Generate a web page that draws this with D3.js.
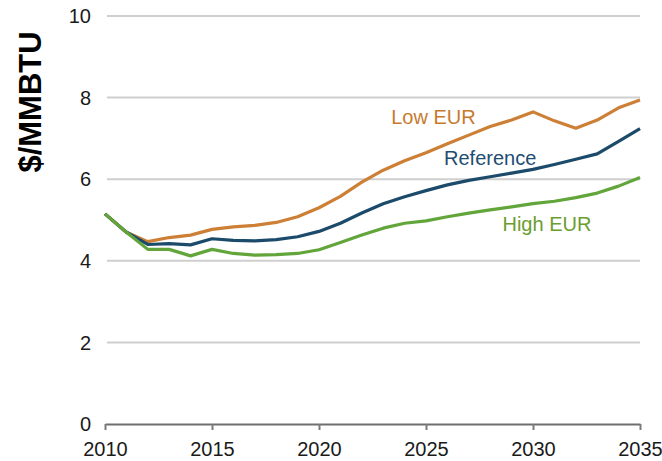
<!DOCTYPE html>
<html>
<head>
<meta charset="utf-8">
<script src="https://cdn.jsdelivr.net/npm/d3@7"></script>
<style>
  body { margin: 0; background: #fff; }
  svg { display: block; font-family: "Liberation Sans", Arial, sans-serif; }
</style>
</head>
<body>
<svg id="chart"></svg>
<script>
const years = d3.range(2010, 2036);
const lowEUR = [5.15, 4.70, 4.47, 4.57, 4.63, 4.77, 4.83, 4.87, 4.94, 5.08, 5.30, 5.58, 5.93, 6.22, 6.45, 6.65, 6.87, 7.08, 7.29, 7.45, 7.65, 7.43, 7.25, 7.45, 7.75, 7.94];
const reference = [5.15, 4.70, 4.40, 4.42, 4.39, 4.54, 4.50, 4.49, 4.52, 4.59, 4.72, 4.92, 5.17, 5.40, 5.57, 5.72, 5.86, 5.97, 6.06, 6.15, 6.24, 6.36, 6.49, 6.62, 6.93, 7.24];
const highEUR = [5.15, 4.70, 4.28, 4.28, 4.12, 4.28, 4.18, 4.14, 4.15, 4.18, 4.27, 4.45, 4.63, 4.80, 4.92, 4.98, 5.08, 5.17, 5.25, 5.32, 5.40, 5.46, 5.55, 5.66, 5.83, 6.04];
const yTicks = [0, 2, 4, 6, 8, 10];
const xTicks = [2010, 2015, 2020, 2025, 2030, 2035];

const series = [
  {name: "Low EUR", values: lowEUR, color: "#cd7f35", text: "#c77a2e", at: [2025.35, 7.52]},
  {name: "Reference", values: reference, color: "#1c4a6b", text: "#1f4d72", at: [2028.0, 6.52]},
  {name: "High EUR", values: highEUR, color: "#62a53a", text: "#6a9e2e", at: [2030.65, 4.90]}
];

const W = 662, H = 461;
const svg = d3.select("#chart").attr("width", W).attr("height", H);

const x = d3.scaleLinear().domain([2010, 2035]).range([105, 640]);
const y = d3.scaleLinear().domain([0, 10]).range([424, 16]);

// gridlines
svg.append("g")
  .selectAll("line")
  .data(yTicks.filter(d => d > 0))
  .enter().append("line")
  .attr("x1", 107).attr("x2", x(2035))
  .attr("y1", d => y(d)).attr("y2", d => y(d))
  .attr("stroke", "#cfcfcf").attr("stroke-width", 2);

// y labels
svg.append("g")
  .selectAll("text")
  .data(yTicks)
  .enter().append("text")
  .attr("x", 91).attr("y", d => y(d))
  .attr("dy", "0.36em")
  .attr("text-anchor", "end")
  .style("font-size", "20px")
  .attr("fill", "#1a1a1a")
  .text(d => d);

// x axis
const xAxis = d3.axisBottom(x).tickValues(xTicks).tickFormat(d3.format("d")).tickSize(6).tickSizeOuter(0);
const gx = svg.append("g")
  .attr("transform", `translate(0, ${y(0)})`)
  .call(xAxis);
gx.select(".domain").attr("stroke", "#6e6e6e").attr("stroke-width", 2);
gx.selectAll(".tick line").attr("stroke", "#7a7a7a").attr("stroke-width", 2);
gx.selectAll(".tick text")
  .attr("y", 18)
  .style("font-size", "20px")
  .style("font-family", "'Liberation Sans', Arial, sans-serif")
  .attr("fill", "#1a1a1a");

// y title
svg.append("text")
  .attr("transform", "translate(41, 102) rotate(-90)")
  .attr("text-anchor", "middle")
  .style("font-size", "31px")
  .style("font-weight", "bold")
  .attr("fill", "#000")
  .text("$/MMBTU");

// lines
const line = d3.line()
  .x((d, i) => x(years[i]))
  .y(d => y(d));

svg.append("g")
  .selectAll("path")
  .data(series)
  .enter().append("path")
  .attr("d", d => line(d.values))
  .attr("fill", "none")
  .attr("stroke", d => d.color)
  .attr("stroke-width", 3.2)
  .attr("stroke-linejoin", "round");

// series labels
svg.append("g")
  .selectAll("text")
  .data(series)
  .enter().append("text")
  .attr("x", d => x(d.at[0]))
  .attr("y", d => y(d.at[1]))
  .attr("text-anchor", "middle")
  .attr("dy", "0.36em")
  .style("font-size", "20px")
  .attr("fill", d => d.text)
  .text(d => d.name);
</script>
</body>
</html>
